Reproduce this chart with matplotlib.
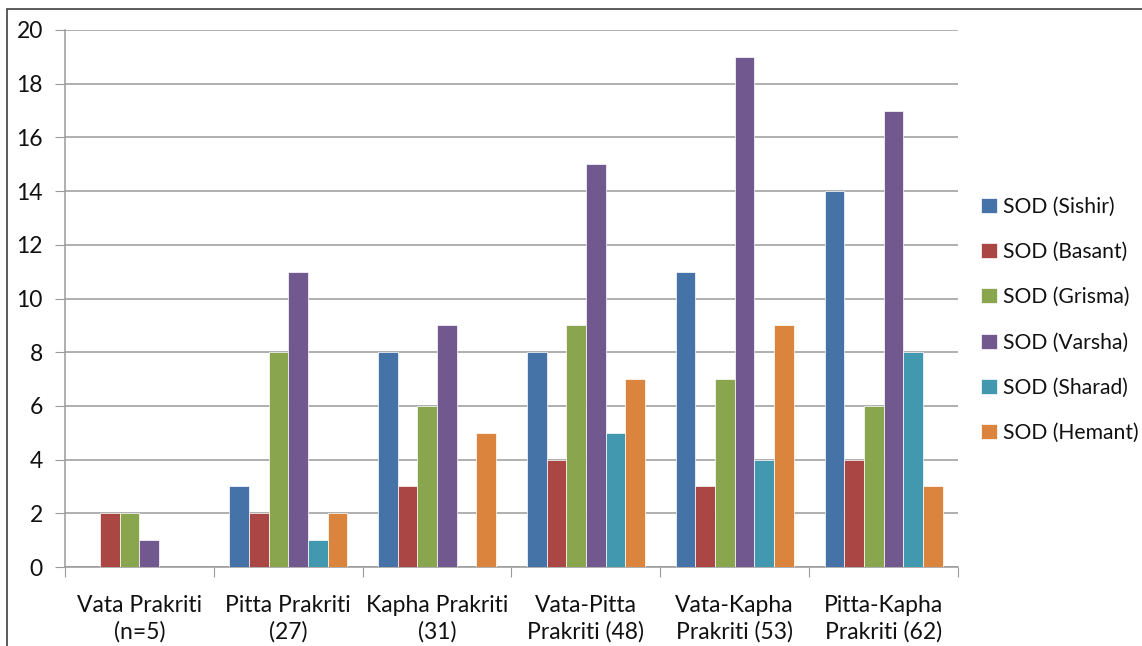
import numpy as np
from matplotlib import pyplot as plt
from matplotlib.patches import Rectangle
from matplotlib.ticker import FixedLocator, MultipleLocator

plt.rcParams['font.family'] = ['Lato', 'DejaVu Sans']

categories = ['Vata Prakriti\n(n=5)', 'Pitta Prakriti\n(27)', 'Kapha Prakriti\n(31)',
              'Vata-Pitta\nPrakriti (48)', 'Vata-Kapha\nPrakriti (53)', 'Pitta-Kapha\nPrakriti (62)']
series_names = ['SOD (Sishir)', 'SOD (Basant)', 'SOD (Grisma)',
                'SOD (Varsha)', 'SOD (Sharad)', 'SOD (Hemant)']
sishir = [0, 3, 8, 8, 11, 14]
basant = [2, 2, 3, 4, 3, 4]
grisma = [2, 8, 6, 9, 7, 6]
varsha = [1, 11, 9, 15, 19, 17]
sharad = [0, 1, 0, 5, 4, 8]
hemant = [0, 2, 5, 7, 9, 3]
colors = ['#4572A7', '#AA4643', '#89A54E', '#71588F', '#4198AF', '#DB843D']

W, H = 1142, 646
fig = plt.figure(figsize=(W / 100, H / 100), dpi=100)
ax = fig.add_axes([65 / W, 1 - 567 / H, (958 - 65) / W, (567 - 30) / H])

# outer chart frame (cut off at right and bottom)
fig.patches.append(Rectangle((7 / W, -0.1), 1.2, 1 - 9 / H + 0.1, transform=fig.transFigure,
                             fill=False, edgecolor='#404040', linewidth=1.2))

x = np.arange(len(categories))
bw = 0.132
all_series = [sishir, basant, grisma, varsha, sharad, hemant]
for i, vals in enumerate(all_series):
    ax.bar(x + (i - 2.5) * bw, vals, bw, color=colors[i], edgecolor='white',
           linewidth=0.5, label=series_names[i], zorder=3)

ax.set_xlim(-0.5, len(categories) - 0.5)
ax.set_ylim(0, 20)
ax.yaxis.set_major_locator(MultipleLocator(2))
ax.grid(axis='y', color='#9a9a9a', linewidth=1.1, zorder=0)

for s in ['top', 'right']:
    ax.spines[s].set_visible(False)
for s in ['left', 'bottom']:
    ax.spines[s].set_color('#9a9a9a')
    ax.spines[s].set_linewidth(1.1)

ax.tick_params(axis='y', length=7, color='#9a9a9a', pad=9, labelsize=16.5, labelcolor='#111111')
ax.xaxis.set_major_locator(FixedLocator(np.arange(-0.5, len(categories), 1)))
ax.xaxis.set_minor_locator(FixedLocator(x))
ax.set_xticklabels([], minor=False)
ax.set_xticklabels(categories, minor=True, fontsize=16.5, linespacing=1.3, color='#111111')
ax.tick_params(axis='x', which='major', length=7, color='#9a9a9a')
ax.tick_params(axis='x', which='minor', length=0, pad=20)

leg = fig.legend(loc='upper left', bbox_to_anchor=(973 / W, 1 - 188 / H), frameon=False,
                 fontsize=15.2, handlelength=0.72, handleheight=0.72, handletextpad=0.32,
                 labelspacing=1.2, borderaxespad=0, labelcolor='#111111')

plt.savefig('out.png', dpi=100)
plt.close()
